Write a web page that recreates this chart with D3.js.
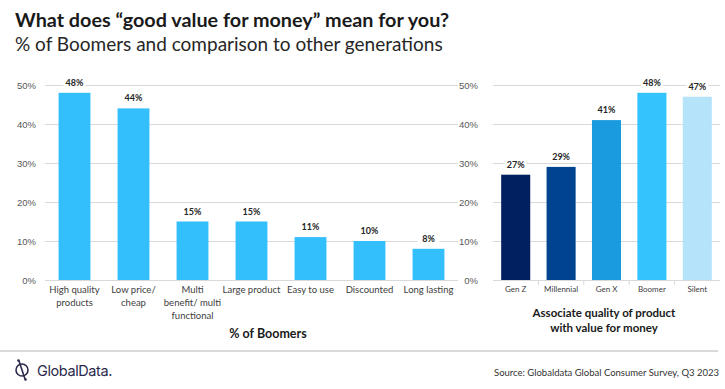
<!DOCTYPE html>
<html lang="en">
<head>
<meta charset="UTF-8">
<title>Good value for money</title>
<script src="https://d3js.org/d3.v7.min.js"></script>
<style>
    body { margin: 0; background: #fff; font-family: Lato, "Open Sans", sans-serif; }
    .grid line { stroke: #d9d9d9; stroke-width: 1px; }
    .axis text { fill: #595959; font-size: 9.5px; }
    .val { font-size: 9px; font-weight: bold; fill: #262626; text-anchor: middle; }
</style>
</head>
<body>
<div id="chart"></div>
<script>
    // left chart: % of Boomers
    const reasons = [
        ["High quality", "products"],
        ["Low price/", "cheap"],
        ["Multi", "benefit/ multi", "functional"],
        ["Large product"],
        ["Easy to use"],
        ["Discounted"],
        ["Long lasting"]
    ];
    const boomerShares = [48, 44, 15, 15, 11, 10, 8];

    // right chart: associate quality with value, by generation
    const generations = ["Gen Z", "Millennial", "Gen X", "Boomer", "Silent"];
    const qualityShares = [27, 29, 41, 48, 47];
    const genColors = ["#002060", "#00448f", "#1a9bdf", "#33c3fd", "#b5e4fa"];

    const yTicks = [0, 10, 20, 30, 40, 50];

    const W = 725, H = 389;
    const svg = d3.select("#chart").append("svg")
        .attr("width", W).attr("height", H);

    // titles
    svg.append("text")
        .attr("x", 15).attr("y", 27)
        .style("font-size", "19.8px").style("font-weight", "bold").style("fill", "#1a1a1a")
        .text("What does \u201cgood value for money\u201d mean for you?");
    svg.append("text")
        .attr("x", 15).attr("y", 51)
        .style("font-size", "19px").style("fill", "#262626")
        .text("% of Boomers and comparison to other generations");

    const y = d3.scaleLinear().domain([0, 50]).range([280, 85]);

    function drawPanel(opts) {
        const g = svg.append("g");
        const x = d3.scaleBand()
            .domain(d3.range(opts.values.length))
            .range(opts.range)
            .paddingInner(opts.pad).paddingOuter(opts.pad / 2);

        // gridlines
        g.append("g").attr("class", "grid")
            .selectAll("line").data(yTicks).enter().append("line")
            .attr("x1", opts.range[0]).attr("x2", opts.range[1])
            .attr("y1", d => y(d) + 0.5).attr("y2", d => y(d) + 0.5);

        // y axis labels
        const ya = g.append("g").attr("class", "axis")
            .attr("transform", `translate(${opts.labelX},0)`)
            .call(d3.axisLeft(y).tickValues(yTicks).tickSize(0).tickPadding(0).tickFormat(d => d + "%"));
        ya.select(".domain").remove();
        ya.selectAll("text").style("font-size", "9.5px");

        // bars
        g.selectAll("rect.bar").data(opts.values).enter().append("rect")
            .attr("class", "bar")
            .attr("x", (d, i) => x(i))
            .attr("width", x.bandwidth())
            .attr("y", d => y(d))
            .attr("height", d => y(0) - y(d))
            .attr("fill", (d, i) => opts.colors ? opts.colors[i] : "#33bffc");

        // white gap in gridline behind value labels
        g.selectAll("rect.bg").data(opts.values).enter().append("rect")
            .attr("x", (d, i) => x(i) + x.bandwidth() / 2 - 11)
            .attr("y", d => y(d) - 17)
            .attr("width", 22).attr("height", 11)
            .attr("fill", "#fff");
        g.selectAll("text.val").data(opts.values).enter().append("text")
            .attr("class", "val")
            .attr("x", (d, i) => x(i) + x.bandwidth() / 2)
            .attr("y", d => y(d) - 7)
            .text(d => d + "%");

        return x;
    }

    // left panel
    const xl = drawPanel({ values: boomerShares, range: [45, 458], pad: 0.46, labelX: 36 });
    svg.append("g").selectAll("text").data(reasons).enter().append("text")
        .attr("class", "axis")
        .attr("text-anchor", "middle")
        .attr("x", (d, i) => xl(i) + xl.bandwidth() / 2)
        .attr("y", 293)
        .style("font-size", "9.5px").style("fill", "#404040")
        .each(function(lines) {
            d3.select(this).selectAll("tspan").data(lines).enter().append("tspan")
                .attr("x", d3.select(this).attr("x"))
                .attr("dy", (d, k) => k === 0 ? 0 : 13)
                .text(d => d);
        });
    svg.append("text")
        .attr("x", 268).attr("y", 338).attr("text-anchor", "middle")
        .style("font-size", "12.5px").style("font-weight", "bold").style("fill", "#1a1a1a")
        .text("% of Boomers");

    // right panel
    const xr = drawPanel({ values: qualityShares, range: [493, 720], pad: 0.36, labelX: 478, colors: genColors });
    svg.append("g").selectAll("text").data(generations).enter().append("text")
        .attr("text-anchor", "middle")
        .attr("x", (d, i) => xr(i) + xr.bandwidth() / 2)
        .attr("y", 292)
        .style("font-size", "8px").style("fill", "#404040")
        .text(d => d);
    svg.append("g").selectAll("line").data(d3.range(1, generations.length)).enter().append("line")
        .attr("x1", i => xr(i) - xr.step() * xr.paddingInner() / 2)
        .attr("x2", i => xr(i) - xr.step() * xr.paddingInner() / 2)
        .attr("y1", 281).attr("y2", 285)
        .attr("stroke", "#d9d9d9");
    svg.append("text")
        .attr("x", 604).attr("y", 317).attr("text-anchor", "middle")
        .style("font-size", "11.5px").style("font-weight", "bold").style("fill", "#1a1a1a")
        .text("Associate quality of product")
        .append("tspan").attr("x", 604).attr("dy", 15).text("with value for money");

    // footer
    svg.append("line")
        .attr("x1", 0).attr("x2", 718).attr("y1", 351).attr("y2", 351)
        .attr("stroke", "#d9d9d9").attr("stroke-width", 2);
    const logo = svg.append("g").attr("transform", "translate(22,370)");
    logo.append("circle").attr("r", 6).attr("fill", "none").attr("stroke", "#2b2a4c").attr("stroke-width", 1.6);
    logo.append("line").attr("x1", -3).attr("y1", -9).attr("x2", 3).attr("y2", 9)
        .attr("stroke", "#2b2a4c").attr("stroke-width", 1.6);
    logo.append("circle").attr("cx", -3.5).attr("cy", -9.5).attr("r", 1.3).attr("fill", "#2b2a4c");
    logo.append("circle").attr("cx", 3.5).attr("cy", 9.5).attr("r", 1.3).attr("fill", "#2b2a4c");
    svg.append("text")
        .attr("x", 37).attr("y", 376)
        .style("font-family", "Inter, sans-serif")
        .style("font-size", "14.5px").style("fill", "#2b2a4c").style("letter-spacing", "-0.4px")
        .text("GlobalData.");
    svg.append("text")
        .attr("x", 719).attr("y", 376).attr("text-anchor", "end")
        .style("font-size", "9.5px").style("fill", "#333")
        .text("Source: Globaldata Global Consumer Survey, Q3 2023");
</script>
</body>
</html>
